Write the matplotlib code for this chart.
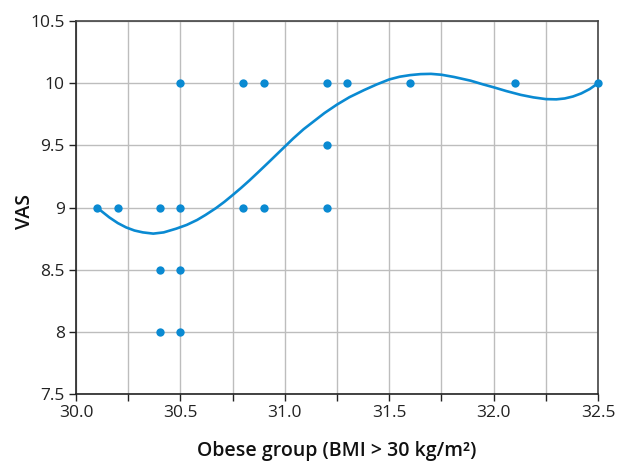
import numpy as np
import matplotlib
matplotlib.use("Agg")
import matplotlib.pyplot as plt

plt.rcParams['font.family'] = ['Open Sans', 'DejaVu Sans']

bmi = [30.1, 30.2, 30.4, 30.5, 30.4, 30.5, 30.4, 30.5, 30.5, 30.8, 30.9,
       31.2, 31.3, 31.6, 32.1, 32.5, 30.8, 30.9, 31.2, 31.2]
vas = [9, 9, 9, 9, 8.5, 8.5, 8, 8, 10, 10, 10,
       10, 10, 10, 10, 10, 9, 9, 9, 9.5]

# trend curve
curve_x = [30.10, 30.13, 30.16, 30.20, 30.24, 30.28, 30.32, 30.37, 30.42, 30.48,
           30.53, 30.58, 30.62, 30.67, 30.71, 30.75, 30.79, 30.83, 30.87, 30.92,
           30.96, 31.00, 31.04, 31.09, 31.14, 31.19, 31.25, 31.31, 31.38, 31.44,
           31.50, 31.55, 31.60, 31.65, 31.70, 31.75, 31.81, 31.89, 31.95, 32.00,
           32.06, 32.13, 32.19, 32.25, 32.30, 32.34, 32.38, 32.42, 32.46, 32.50]
curve_y = [9.00, 8.96, 8.92, 8.875, 8.84, 8.815, 8.80, 8.79, 8.80, 8.83,
           8.86, 8.90, 8.94, 8.995, 9.045, 9.10, 9.157, 9.217, 9.28, 9.36,
           9.425, 9.49, 9.555, 9.63, 9.695, 9.76, 9.828, 9.888, 9.945, 9.99,
           10.03, 10.052, 10.065, 10.073, 10.075, 10.068, 10.05, 10.02, 9.99, 9.967,
           9.937, 9.906, 9.886, 9.872, 9.870, 9.877, 9.893, 9.918, 9.953, 10.00]

color = '#0a8ad2'

fig = plt.figure(figsize=(6.2, 4.61), dpi=100)
ax = fig.add_axes([0.1226, 0.1453, 0.842, 0.8091])

ax.plot(curve_x, curve_y, color=color, lw=1.9, zorder=3,
        solid_capstyle='round', solid_joinstyle='round')
ax.scatter(bmi, vas, s=36, color=color, zorder=5, linewidths=0, clip_on=False)

ax.set_xlim(30.0, 32.5)
ax.set_ylim(7.5, 10.5)
xt = np.arange(30.0, 32.51, 0.25)
ax.set_xticks(xt)
ax.set_xticklabels([f'{v:.1f}' if abs((v * 2) - round(v * 2)) < 1e-6 else '' for v in xt])
yt = np.arange(7.5, 10.51, 0.5)
ax.set_yticks(yt)
ax.set_yticklabels([f'{v:g}' for v in yt])

ax.grid(True, color='#bdbdbd', lw=1.0)
ax.set_axisbelow(True)
ax.tick_params(direction='out', length=5, width=1, colors='#222222',
               labelsize=12.5, labelcolor='#222222', pad=3)
for s in ['left', 'bottom']:
    ax.spines[s].set_color('#222222')
    ax.spines[s].set_linewidth(1.2)
for s in ['top', 'right']:
    ax.spines[s].set_color('#444444')
    ax.spines[s].set_linewidth(1.2)

ax.set_xlabel('Obese group (BMI > 30 kg/m²)', fontsize=14, fontweight='semibold',
              labelpad=14, color='#111111')
ax.set_ylabel('VAS', fontsize=14, fontweight='semibold', color='#111111')
ax.yaxis.set_label_coords(-0.078, 0.49)

fig.savefig('out.png', dpi=100)
